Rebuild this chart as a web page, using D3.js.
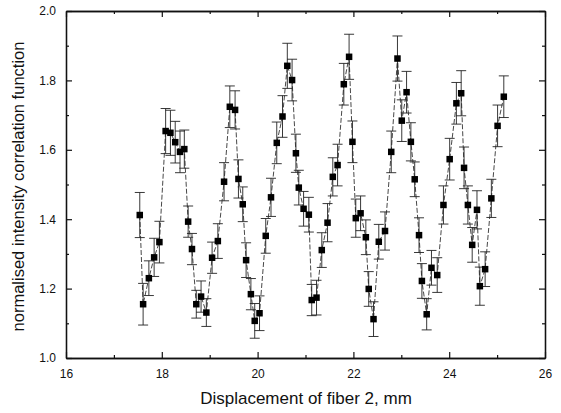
<!DOCTYPE html>
<html>
<head>
<meta charset="utf-8">
<script src="https://cdn.jsdelivr.net/npm/d3@7"></script>
<style>
body { margin: 0; background: #fff; }
text { font-family: "Liberation Sans", Arial, sans-serif; fill: #111; }
</style>
</head>
<body>
<div id="chart"></div>
<script>
var W = 561, H = 413
var margin = {top: 11, right: 16, bottom: 55, left: 66}
var w = W - margin.left - margin.right
var h = H - margin.top - margin.bottom

// displacement (mm), correlation values and their error bars
var displacement = [17.54,17.61,17.73,17.84,17.95,18.08,18.18,18.28,18.38,18.47,
    18.55,18.63,18.72,18.82,18.93,19.05,19.17,19.30,19.42,19.53,
    19.60,19.69,19.76,19.86,19.94,20.04,20.17,20.28,20.40,20.52,
    20.62,20.72,20.80,20.86,20.96,21.07,21.13,21.23,21.34,21.46,
    21.57,21.67,21.80,21.91,21.98,22.05,22.15,22.26,22.32,22.42,
    22.53,22.66,22.79,22.92,23.01,23.11,23.20,23.28,23.37,23.43,
    23.53,23.63,23.75,23.88,24.01,24.15,24.25,24.31,24.39,24.48,
    24.58,24.64,24.75,24.88,25.01,25.14]
var correlation = [1.412,1.155,1.230,1.290,1.334,1.654,1.649,1.622,1.594,1.602,
    1.393,1.314,1.155,1.177,1.131,1.289,1.337,1.508,1.724,1.715,
    1.516,1.443,1.282,1.184,1.107,1.129,1.352,1.463,1.620,1.696,
    1.842,1.801,1.590,1.491,1.430,1.413,1.167,1.174,1.311,1.390,
    1.522,1.556,1.789,1.868,1.623,1.403,1.417,1.348,1.199,1.112,
    1.335,1.366,1.594,1.863,1.684,1.766,1.623,1.515,1.354,1.222,
    1.126,1.260,1.239,1.441,1.573,1.734,1.763,1.548,1.441,1.326,
    1.427,1.207,1.256,1.460,1.669,1.753]
var errors = [0.065,0.060,0.050,0.055,0.060,0.065,0.065,0.060,0.060,0.055,
    0.045,0.045,0.040,0.045,0.040,0.045,0.050,0.055,0.060,0.055,
    0.055,0.050,0.050,0.045,0.050,0.050,0.050,0.055,0.060,0.060,
    0.065,0.060,0.055,0.050,0.050,0.050,0.045,0.050,0.050,0.055,
    0.055,0.060,0.060,0.065,0.060,0.055,0.050,0.050,0.050,0.050,
    0.050,0.055,0.060,0.065,0.060,0.060,0.055,0.050,0.050,0.050,
    0.045,0.050,0.050,0.055,0.060,0.060,0.065,0.060,0.055,0.050,
    0.055,0.055,0.050,0.055,0.060,0.060]

var xTicks = [16,18,20,22,24,26]
var yTicks = [1.0,1.2,1.4,1.6,1.8,2.0]
var xMinor = [17,19,21,23,25]
var yMinor = [1.1,1.3,1.5,1.7,1.9]

var points = displacement.map(function(d, i) {
    return {x: d, y: correlation[i], e: errors[i]}
})

var svg = d3.select("#chart").append("svg")
    .attr("width", W)
    .attr("height", H)

var g = svg.append("g")
    .attr("transform", "translate(" + margin.left + "," + margin.top + ")")

var xScale = d3.scaleLinear().domain([16, 26]).range([0, w])
var yScale = d3.scaleLinear().domain([1.0, 2.0]).range([h, 0])

// axes, ticks pointing inwards on all four sides
function styleAxis(sel) {
    sel.select(".domain").attr("stroke", "#111").attr("stroke-width", 1.3)
    sel.selectAll(".tick line").attr("stroke", "#111").attr("stroke-width", 1.2)
    sel.selectAll(".tick text").attr("font-size", "12px")
}

g.append("g")
    .attr("transform", "translate(0," + h + ")")
    .call(d3.axisBottom(xScale).tickValues(xTicks).tickSizeInner(-6).tickSizeOuter(0).tickPadding(11).tickFormat(d3.format("d")))
    .call(styleAxis)
g.append("g")
    .attr("transform", "translate(0," + h + ")")
    .call(d3.axisBottom(xScale).tickValues(xMinor).tickSizeInner(-3).tickSizeOuter(0).tickFormat(""))
    .call(styleAxis)
g.append("g")
    .call(d3.axisTop(xScale).tickValues(xTicks).tickSizeInner(-6).tickSizeOuter(0).tickFormat(""))
    .call(styleAxis)
g.append("g")
    .call(d3.axisTop(xScale).tickValues(xMinor).tickSizeInner(-3).tickSizeOuter(0).tickFormat(""))
    .call(styleAxis)

g.append("g")
    .call(d3.axisLeft(yScale).tickValues(yTicks).tickSizeInner(-6).tickSizeOuter(0).tickPadding(10).tickFormat(d3.format(".1f")))
    .call(styleAxis)
g.append("g")
    .call(d3.axisLeft(yScale).tickValues(yMinor).tickSizeInner(-3).tickSizeOuter(0).tickFormat(""))
    .call(styleAxis)
g.append("g")
    .attr("transform", "translate(" + w + ",0)")
    .call(d3.axisRight(yScale).tickValues(yTicks).tickSizeInner(-6).tickSizeOuter(0).tickFormat(""))
    .call(styleAxis)
g.append("g")
    .attr("transform", "translate(" + w + ",0)")
    .call(d3.axisRight(yScale).tickValues(yMinor).tickSizeInner(-3).tickSizeOuter(0).tickFormat(""))
    .call(styleAxis)

// connecting line
var line = d3.line()
    .x(function(d) { return xScale(d.x) })
    .y(function(d) { return yScale(d.y) })

g.append("path")
    .datum(points)
    .attr("fill", "none")
    .attr("stroke", "#333")
    .attr("stroke-width", 0.9)
    .attr("stroke-dasharray", "5,2")
    .attr("d", line)

// error bars with caps
var bars = g.selectAll(".err")
    .data(points)
    .enter()
    .append("g")
    .attr("class", "err")
    .attr("stroke", "#222")
    .attr("stroke-width", 0.9)

bars.append("line")
    .attr("x1", function(d) { return xScale(d.x) })
    .attr("x2", function(d) { return xScale(d.x) })
    .attr("y1", function(d) { return yScale(d.y + d.e) })
    .attr("y2", function(d) { return yScale(d.y - d.e) })

bars.append("line")
    .attr("x1", function(d) { return xScale(d.x) - 5 })
    .attr("x2", function(d) { return xScale(d.x) + 5 })
    .attr("y1", function(d) { return yScale(d.y + d.e) })
    .attr("y2", function(d) { return yScale(d.y + d.e) })

bars.append("line")
    .attr("x1", function(d) { return xScale(d.x) - 5 })
    .attr("x2", function(d) { return xScale(d.x) + 5 })
    .attr("y1", function(d) { return yScale(d.y - d.e) })
    .attr("y2", function(d) { return yScale(d.y - d.e) })

// markers
g.selectAll(".pt")
    .data(points)
    .enter()
    .append("rect")
    .attr("class", "pt")
    .attr("x", function(d) { return xScale(d.x) - 3.25 })
    .attr("y", function(d) { return yScale(d.y) - 3.25 })
    .attr("width", 6.5)
    .attr("height", 6.5)
    .attr("fill", "#000")

// axis titles
svg.append("text")
    .attr("text-anchor", "middle")
    .attr("font-size", "17px")
    .attr("x", 306)
    .attr("y", 404)
    .text("Displacement of fiber 2, mm")

svg.append("text")
    .attr("text-anchor", "middle")
    .attr("font-size", "16.5px")
    .attr("transform", "translate(24," + (margin.top + h / 2 + 2) + ") rotate(-90)")
    .text("normalised intensity correlation function")
</script>
</body>
</html>
